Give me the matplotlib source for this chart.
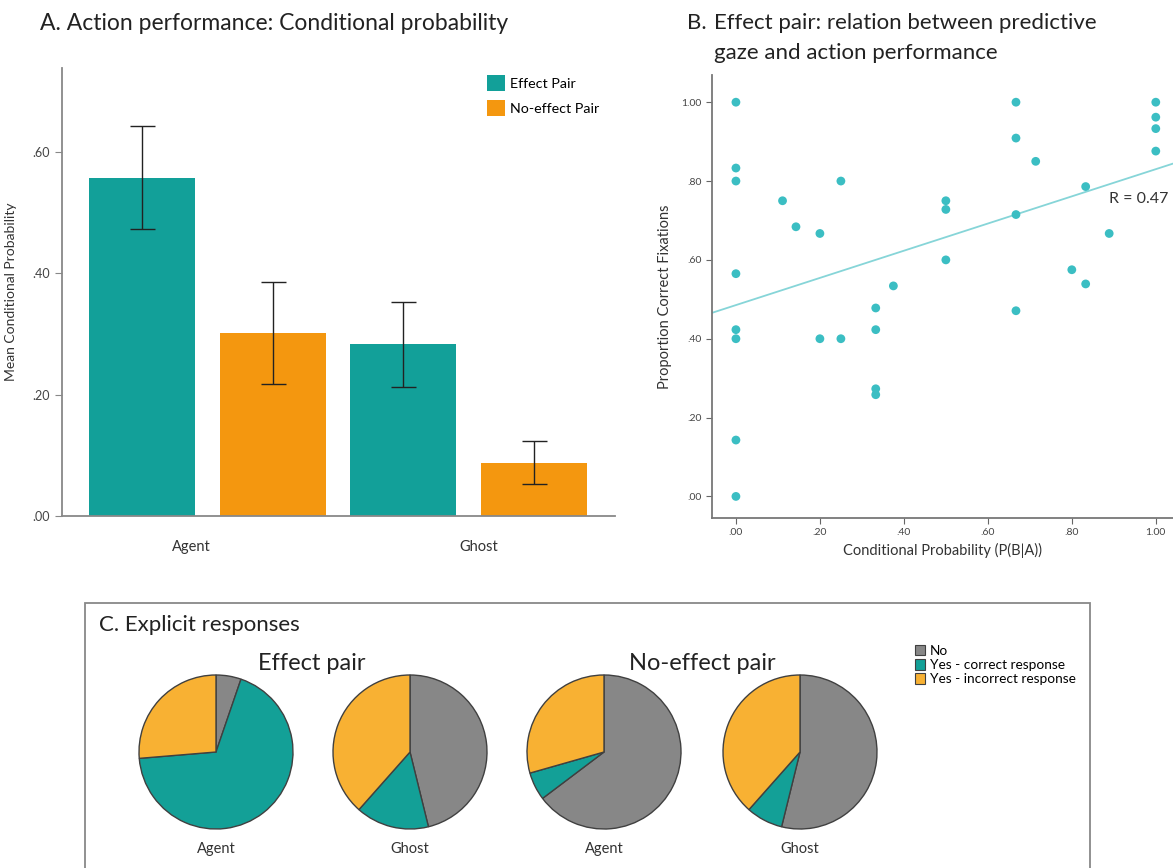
import numpy as np
import matplotlib
matplotlib.use('Agg')
import matplotlib.pyplot as plt
from matplotlib.patches import Rectangle, Patch

plt.rcParams['font.family'] = ['Lato', 'DejaVu Sans']

# --- A: mean conditional probability (bars + error bars)
groups = ['Agent', 'Ghost']
pair_names = ['Effect Pair', 'No-effect Pair']
mean_effect = [0.557, 0.283]
mean_noeffect = [0.302, 0.087]
err_effect_low = [0.472, 0.212]
err_effect_high = [0.642, 0.352]
err_noeffect_low = [0.217, 0.052]
err_noeffect_high = [0.385, 0.124]

# --- B: conditional probability vs proportion correct fixations (effect pair)
cond_prob = [0.0, 0.0, 0.0, 0.0, 0.0, 0.0, 0.0, 0.0,
             0.111, 0.143, 0.2, 0.2, 0.25, 0.25,
             0.333, 0.333, 0.333, 0.333, 0.375,
             0.5, 0.5, 0.5,
             0.667, 0.667, 0.667, 0.667, 0.714,
             0.8, 0.833, 0.833, 0.889,
             1.0, 1.0, 1.0, 1.0]
prop_correct = [1.0, 0.833, 0.8, 0.565, 0.423, 0.4, 0.143, 0.0,
                0.75, 0.684, 0.667, 0.4, 0.8, 0.4,
                0.478, 0.423, 0.273, 0.258, 0.534,
                0.75, 0.728, 0.6,
                1.0, 0.909, 0.715, 0.471, 0.85,
                0.575, 0.786, 0.539, 0.667,
                1.0, 0.962, 0.933, 0.876]
r_label = 'R = 0.47'

# --- C: explicit responses (counts)
resp_labels = ['No', 'Yes - correct response', 'Yes - incorrect response']
effect_agent = [1, 13, 5]
effect_ghost = [6, 2, 5]
noeffect_agent = [11, 1, 5]
noeffect_ghost = [7, 1, 5]

teal = '#12A099'
orange = '#F4970F'
pie_cols = ['#878787', '#13A097', '#F8B133']
txt = '#333333'

W, H = 1173, 868
def box(l, t, r, b):
    return [l / W, 1 - b / H, (r - l) / W, (b - t) / H]

fig = plt.figure(figsize=(W / 100, H / 100), dpi=100)

# ---------------- panel A
axA = fig.add_axes(box(62, 68, 615, 516))
xe = np.array([0, 2])
xn = np.array([1, 3])
axA.bar(xe, mean_effect, width=0.81, color=teal, label=pair_names[0])
axA.bar(xn, mean_noeffect, width=0.81, color=orange, label=pair_names[1])
yerr_e = [np.array(mean_effect) - np.array(err_effect_low),
          np.array(err_effect_high) - np.array(mean_effect)]
yerr_n = [np.array(mean_noeffect) - np.array(err_noeffect_low),
          np.array(err_noeffect_high) - np.array(mean_noeffect)]
axA.errorbar(xe, mean_effect, yerr=yerr_e, fmt='none', ecolor='#222222',
             elinewidth=1, capsize=9, capthick=1)
axA.errorbar(xn, mean_noeffect, yerr=yerr_n, fmt='none', ecolor='#222222',
             elinewidth=1, capsize=9, capthick=1)
axA.set_xlim(-0.612, 3.62)
axA.set_ylim(0, 0.738)
axA.set_yticks([0, 0.2, 0.4, 0.6])
axA.set_yticklabels(['.00', '.20', '.40', '.60'])
axA.set_xticks([0.38, 2.58])
axA.set_xticklabels(groups)
axA.tick_params(axis='x', length=0, pad=17, labelsize=10.5, labelcolor=txt)
axA.tick_params(axis='y', length=5, color='#888888', labelsize=9, labelcolor='#444444')
for s in ['top', 'right']:
    axA.spines[s].set_visible(False)
for s in ['left', 'bottom']:
    axA.spines[s].set_color('#888888')
    axA.spines[s].set_linewidth(1.3)
axA.set_ylabel('Mean Conditional Probability', fontsize=10, color=txt)
axA.yaxis.set_label_coords(-0.081, 0.5)
axA.legend(loc='upper left', bbox_to_anchor=(0.755, 1.0), frameon=False,
           fontsize=10.3, handlelength=1.25, handleheight=1.35,
           handletextpad=0.4, labelspacing=0.6, borderpad=0)
fig.text(40 / W, 1 - 24 / H, 'A. Action performance: Conditional probability',
         fontsize=16.5, va='center', color='#222222')

# ---------------- panel B
axB = fig.add_axes(box(712, 75, 1173, 517.7))
axB.scatter(cond_prob, prop_correct, s=40, color='#3BBEC3', edgecolors='none', zorder=3)
coef = np.polyfit(cond_prob, prop_correct, 1)
axB.set_xlim(-0.057, 1.041)
axB.set_ylim(-0.054, 1.069)
xx = np.array(axB.get_xlim())
axB.plot(xx, np.polyval(coef, xx), color='#86D5D8', lw=1.3, zorder=2)
axB.text(0.889, 0.755, r_label, fontsize=11.5, va='center', color=txt)
ticks = [0, 0.2, 0.4, 0.6, 0.8, 1.0]
labs = ['.00', '.20', '.40', '.60', '.80', '1.00']
axB.set_xticks(ticks)
axB.set_xticklabels(labs)
axB.set_yticks(ticks)
axB.set_yticklabels(labs)
axB.tick_params(length=4, color='#666666', labelsize=7.5, labelcolor='#444444')
for s in ['top', 'right']:
    axB.spines[s].set_visible(False)
for s in ['left', 'bottom']:
    axB.spines[s].set_color('#777777')
    axB.spines[s].set_linewidth(1.3)
axB.set_xlabel('Conditional Probability (P(B|A))', fontsize=10.5, color=txt, labelpad=4)
axB.set_ylabel('Proportion Correct Fixations', fontsize=10.5, color=txt)
axB.yaxis.set_label_coords((672 - 712) / 461, 0.5)
fig.text(687 / W, 1 - 23 / H, 'B.', fontsize=16, va='center', color='#222222')
fig.text(714 / W, 1 - 23 / H, 'Effect pair: relation between predictive',
         fontsize=16, va='center', color='#222222')
fig.text(714 / W, 1 - 53 / H, 'gaze and action performance',
         fontsize=16, va='center', color='#222222')

# ---------------- panel C
frame = Rectangle((85 / W, -0.1), (1090 - 85) / W, (1 - 603 / H) + 0.1,
                  transform=fig.transFigure, fill=False,
                  edgecolor='#888888', lw=1.3)
fig.patches.append(frame)

hC = 0.32 * H
axC = fig.add_axes([0, 0, 1, 0.32])
pies = [effect_agent, effect_ghost, noeffect_agent, noeffect_ghost]
pie_x = [216, 410, 604, 800]
pie_names = ['Agent', 'Ghost', 'Agent', 'Ghost']
for cnt, cx, nm in zip(pies, pie_x, pie_names):
    axC.pie(cnt, colors=pie_cols, startangle=90, counterclock=False,
            center=(cx, H - 752), radius=77,
            wedgeprops=dict(edgecolor='#404040', linewidth=1))
    axC.text(cx, H - 849, nm, ha='center', va='center', fontsize=10.5, color=txt)
axC.set_xlim(0, W)
axC.set_ylim(0, hC)
axC.set_aspect('equal')
axC.axis('off')

fig.text(99 / W, 1 - 625 / H, 'C. Explicit responses', fontsize=16,
         va='center', color='#222222')
fig.text(312 / W, 1 - 663 / H, 'Effect pair', fontsize=17, ha='center',
         va='center', color='#222222')
fig.text(702 / W, 1 - 663 / H, 'No-effect pair', fontsize=17, ha='center',
         va='center', color='#222222')

handles = [Patch(facecolor=c, edgecolor='#404040', lw=0.8) for c in pie_cols]
fig.legend(handles, resp_labels, loc='upper left',
           bbox_to_anchor=(915 / W, 1 - 645 / H), frameon=False,
           fontsize=9.8, handlelength=0.75, handleheight=0.8,
           handletextpad=0.35, labelspacing=0.15, borderpad=0, borderaxespad=0)

fig.savefig('out.png', dpi=100)
